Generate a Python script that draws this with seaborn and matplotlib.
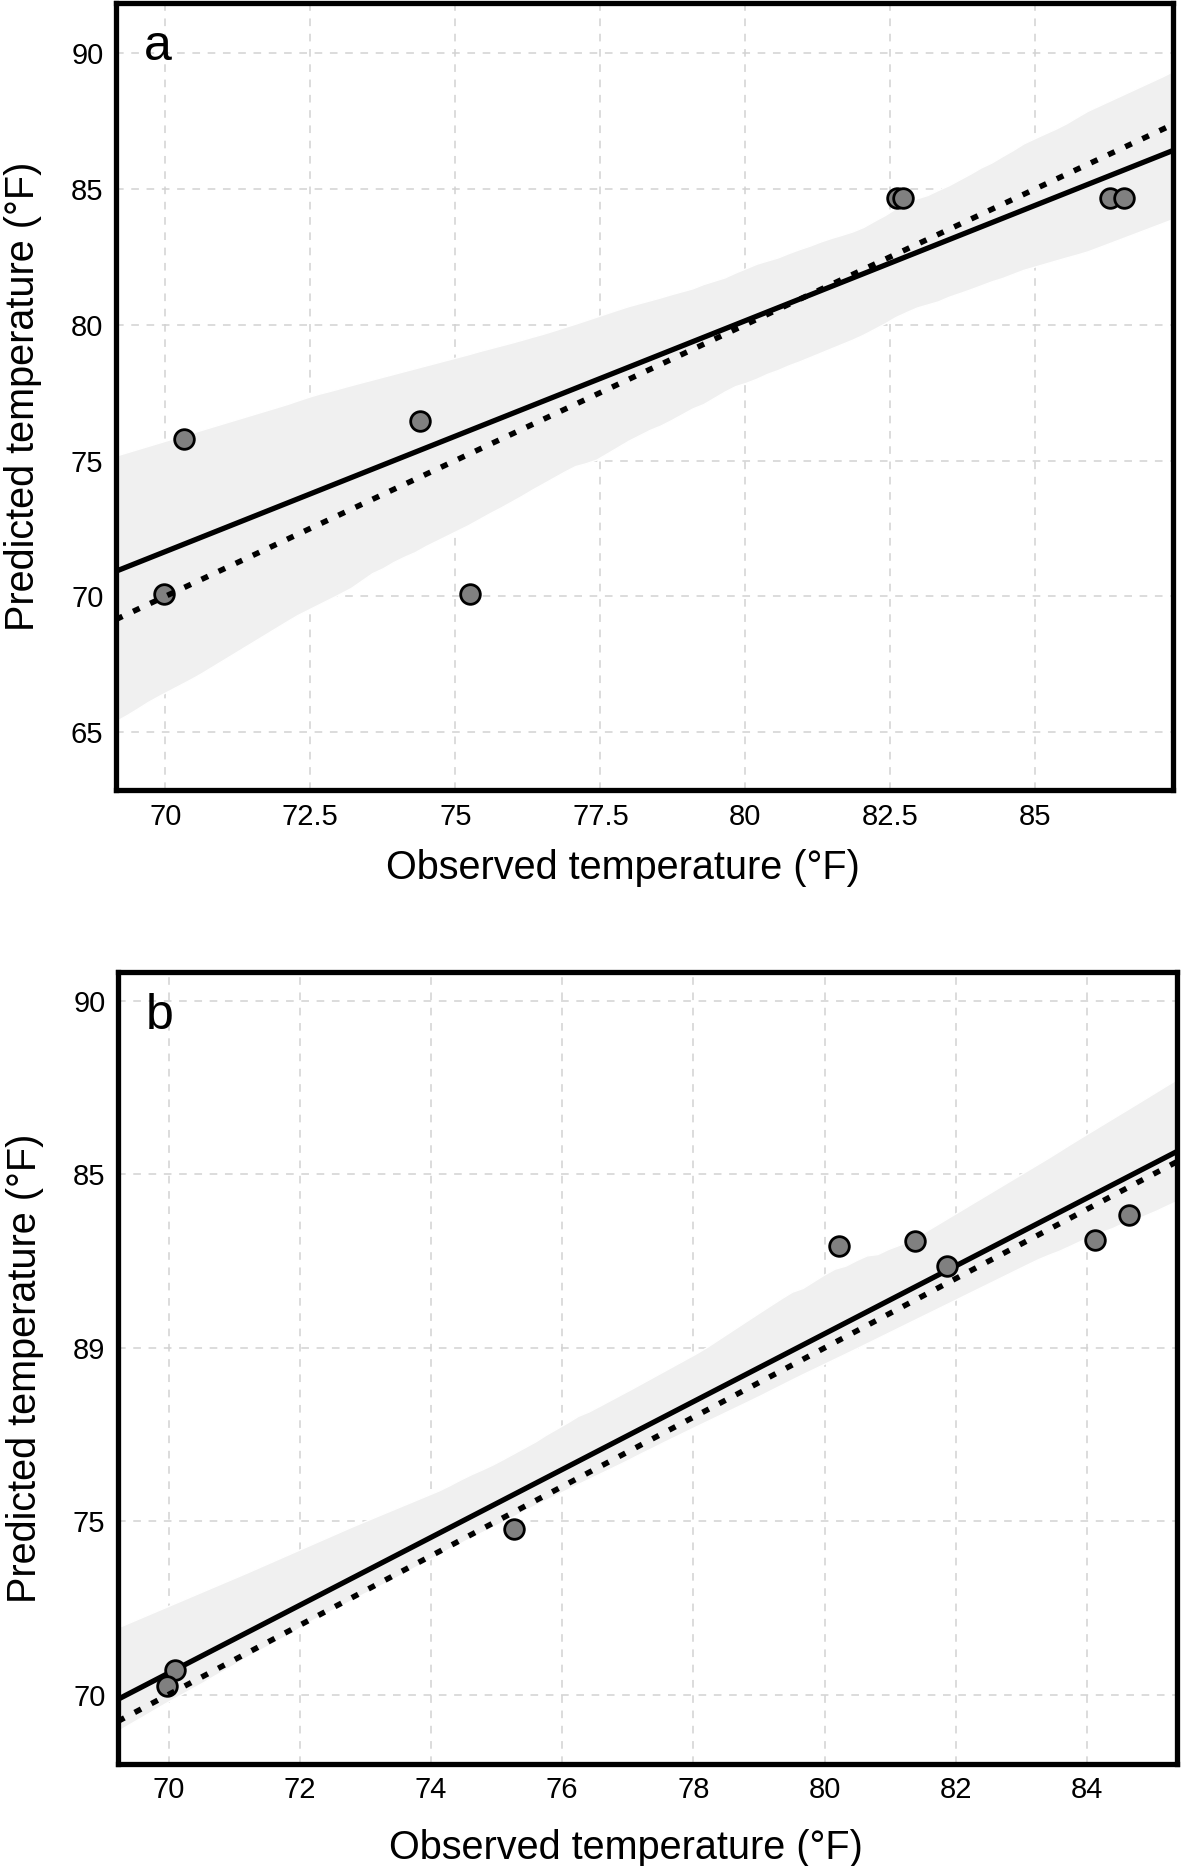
import numpy as np
import pandas as pd
import seaborn as sns
import matplotlib.pyplot as plt
from matplotlib.collections import PolyCollection

# === Data ===
# panel a
obs_a = [69.97, 70.32, 74.39, 75.26, 82.61, 82.72, 86.29, 86.53]
pred_a = [70.1, 75.8, 76.45, 70.1, 84.65, 84.65, 84.65, 84.65]
xticks_a = [70, 72.5, 75, 77.5, 80, 82.5, 85]
xticklabels_a = ["70", "72.5", "75", "77.5", "80", "82.5", "85"]
yticks_a = [65, 70, 75, 80, 85, 90]
yticklabels_a = ["65", "70", "75", "80", "85", "90"]

# panel b
obs_b = [70.10, 69.97, 75.27, 80.22, 81.38, 81.86, 84.12, 84.64]
pred_b = [70.72, 70.26, 74.77, 82.93, 83.09, 82.35, 83.12, 83.84]
xticks_b = [70, 72, 74, 76, 78, 80, 82, 84]
xticklabels_b = ["70", "72", "74", "76", "78", "80", "82", "84"]
yticks_b = [70, 75, 80, 85, 90]
yticklabels_b = ["70", "75", "89", "85", "90"]  # "89" as printed in the original

# approximate CI band edges seen at the left / right axis limits (lo, hi)
band_a = [(65.45, 75.34), (83.77, 89.4)]
band_b = [(69.0, 71.9), (84.18, 87.75)]

df_a = pd.DataFrame({"observed": obs_a, "predicted": pred_a})
df_b = pd.DataFrame({"observed": obs_b, "predicted": pred_b})


def pick_seed(xs, ys, xlim, band, n_boot=1000):
    # choose the bootstrap seed whose 95% band looks most like the original
    X = np.c_[np.ones(len(xs)), xs]
    y = np.asarray(ys)
    grid = np.c_[np.ones(2), np.asarray(xlim)]
    target = np.array(band)
    best, best_err = 0, np.inf
    for seed in range(80):
        betas = sns.algorithms.bootstrap(X, y, func=lambda a, b: np.linalg.pinv(a).dot(b),
                                         n_boot=n_boot, seed=seed)
        yhat = grid.dot(betas.T)
        lo, hi = np.nanpercentile(yhat, [2.5, 97.5], axis=1)
        err = np.sum((np.c_[lo, hi] - target) ** 2)
        if err < best_err:
            best, best_err = seed, err
    return best


# === Style ===
sns.set_theme(style="white")
plt.rcParams["font.family"] = ["Liberation Sans", "DejaVu Sans"]

fig = plt.figure(figsize=(11.81, 18.66), dpi=100)
ax_a = fig.add_axes([0.0982, 0.5766, 0.895, 0.4218])
ax_b = fig.add_axes([0.0999, 0.0547, 0.8967, 0.4244])


def draw_panel(ax, df, letter, xlim, ylim, xticks, xticklabels, yticks, yticklabels,
               band, label_y):
    seed = pick_seed(df["observed"], df["predicted"], xlim, band)
    ax.set_xlim(xlim)
    ax.set_ylim(ylim)
    # fitted line + bootstrap CI band
    sns.regplot(data=df, x="observed", y="predicted", ax=ax, ci=95, n_boot=1000, seed=seed,
                truncate=False, color="black",
                scatter_kws={"s": 200, "color": "#808080", "edgecolor": "black",
                             "linewidths": 2, "alpha": 1, "zorder": 3},
                line_kws={"color": "black", "lw": 3.8, "zorder": 2})
    for coll in ax.collections:
        if isinstance(coll, PolyCollection):
            coll.set_facecolor("#f0f0f0")
            coll.set_alpha(1)
            coll.set_zorder(1)
    # 1:1 line
    ax.axline((70, 70), slope=1, color="black", lw=4, ls=(0, (1.3, 2.1)), zorder=4)

    ax.set_xlim(xlim)
    ax.set_ylim(ylim)
    ax.set_xticks(xticks)
    ax.set_xticklabels(xticklabels)
    ax.set_yticks(yticks)
    ax.set_yticklabels(yticklabels)
    ax.tick_params(length=0, labelsize=21, pad=9, colors="black")
    ax.grid(True, color="#d2d2d2", lw=1.1, ls=(0, (5, 5)))
    ax.set_axisbelow(True)
    for sp in ax.spines.values():
        sp.set_visible(True)
        sp.set_color("black")
        sp.set_linewidth(3.8)

    ax.set_xlabel("Observed temperature (°F)", fontsize=28.5, color="black")
    ax.set_ylabel("Predicted temperature (°F)", fontsize=28.5, color="black")
    ax.xaxis.set_label_coords(0.48, label_y)
    ax.yaxis.set_label_coords(-0.07, 0.5)
    ax.text(0.026, 0.928, letter, transform=ax.transAxes, fontsize=36,
            va="baseline", ha="left", color="black")


draw_panel(ax_a, df_a, "a", (69.15, 87.37), (62.87, 91.84),
           xticks_a, xticklabels_a, yticks_a, yticklabels_a, band_a, -0.075)
draw_panel(ax_b, df_b, "b", (69.23, 85.37), (68.0, 90.84),
           xticks_b, xticklabels_b, yticks_b, yticklabels_b, band_b, -0.082)

fig.savefig("out.png", dpi=100)
